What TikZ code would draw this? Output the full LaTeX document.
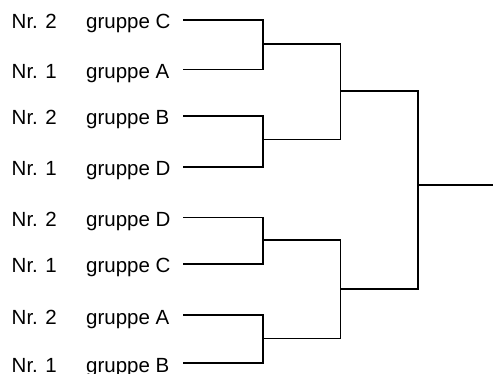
\documentclass[tikz,border=0pt]{standalone}
\usepackage{fontspec}
\setmainfont{Liberation Sans}
\begin{document}
\begin{tikzpicture}[x=1pt,y=-1pt,
  lbl/.style={anchor=base west,inner sep=0pt,font=\fontsize{20.5}{24}\selectfont},
  wire/.style={line width=1.1pt,line cap=rect}]
\useasboundingbox (0,0) rectangle (493,374);
% rows
\foreach \n/\y/\r/\g in {1/20/2/C,2/69.5/1/A,3/116/2/B,4/167/1/D,5/217.5/2/D,6/264/1/C,7/315/2/A,8/363/1/B}{
  \node[lbl] (nr\n) at (11.5,\y+9) {Nr. \r};
  \node[lbl] (gr\n) at (86,\y+9) {gruppe \g};
  \coordinate (s\n) at (184,\y);
}
% junctions
\coordinate (a1) at (263,44);
\coordinate (a2) at (263,139.5);
\coordinate (a3) at (263,240);
\coordinate (a4) at (263,338.5);
\coordinate (b1) at (340.5,91);
\coordinate (b2) at (340.5,289);
\coordinate (c1) at (418,185);
\coordinate (w) at (493,185);
% round 1
\draw[wire] (s1) -| (a1) |- (s2);
\draw[wire] (s3) -| (a2) |- (s4);
\draw[wire] (s5) -| (a3) |- (s6);
\draw[wire] (s7) -| (a4) |- (s8);
% round 2
\draw[wire] (a1) -| (b1) |- (a2);
\draw[wire] (a3) -| (b2) |- (a4);
% final
\draw[wire] (b1) -| (c1) |- (b2);
\draw[wire] (c1) -- (w);
\end{tikzpicture}
\end{document}
